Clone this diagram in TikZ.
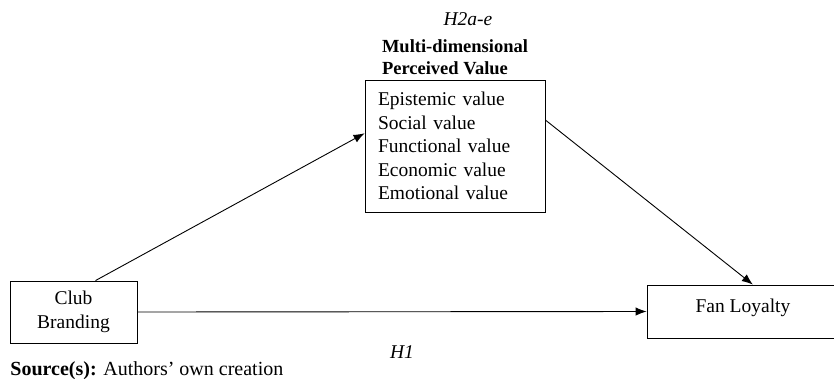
\documentclass[tikz,border=0pt]{standalone}
\usepackage{fontspec}
\setmainfont{Liberation Serif}
\usetikzlibrary{
positioning,
arrows.meta
}

\tikzset{
box/.style={draw,line width=0.9pt,inner sep=0pt,align=center},
txt/.style={font=\fontsize{19.5}{23.5}\selectfont},
}

\begin{document}
\begin{tikzpicture}[x=1pt,y=-1pt,>={Latex[length=11pt,width=8.5pt]},line width=0.9pt]

% Frame
\useasboundingbox (0,0) rectangle (834,378);

% Boxes
\node[box,txt,minimum width=127pt,minimum height=62pt] (club) at (73.5,312) {Club\\Branding};
\node[box,txt,align=left,text width=154pt,inner xsep=13pt,minimum height=132pt] (pv) at (455,146)
{Epistemic value\\Social value\\Functional value\\Economic value\\Emotional value};
\node[box,txt,minimum width=192pt,minimum height=53pt,text height=13pt,text depth=12pt] (fan) at (743,311.5) {Fan Loyalty};

% Title of the mediator
\node[above right=4pt and 17pt of pv.north west,align=left,inner sep=0pt,
font=\fontsize{18.5}{22}\selectfont\bfseries] (title) {Multi-dimensional\\Perceived Value};

% Paths
\draw[->] (club.55) -- (pv.172);
\draw[->] (pv.16) -- (fan.70);
\draw[->] (club.east) -- (fan.west);

% Hypotheses
\node[txt,anchor=base,font=\fontsize{19.5}{23.5}\selectfont\itshape] (h2) at (468,25) {H2a-e};
\node[txt,anchor=base,font=\fontsize{19.5}{23.5}\selectfont\itshape] (h1) at (402,358) {H1};

% Source
\node[anchor=base west,inner sep=0pt,font=\fontsize{20}{24}\selectfont] (src) at (10,375)
{\textbf{Source(s):} Authors’ own creation};

\end{tikzpicture}
\end{document}
